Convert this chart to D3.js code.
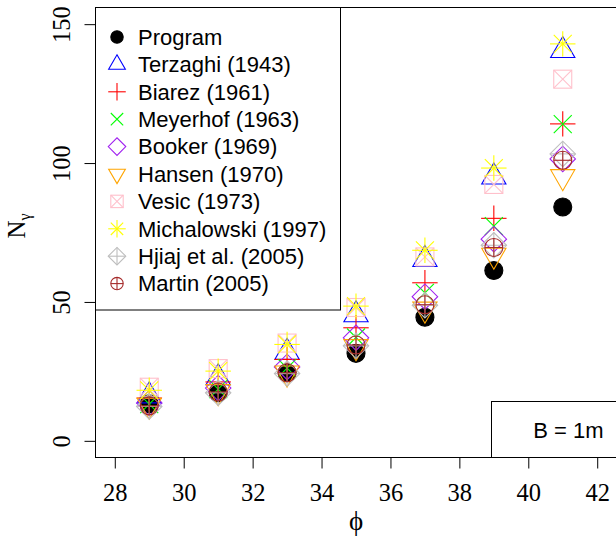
<!DOCTYPE html>
<html>
<head>
<meta charset="utf-8">
<script src="https://cdn.jsdelivr.net/npm/d3@7"></script>
<style>
  html, body { margin: 0; padding: 0; background: #fff; }
  svg { display: block; }
</style>
</head>
<body>
<svg id="chart" width="616" height="539"></svg>
<script>
// ---------- data ----------
const phi = [29, 31, 33, 35, 37, 39, 41];
const program     = [13.3, 17.3, 24.5, 31.5, 44.5, 61.3, 84.2];
const terzaghi    = [16.2, 22.7, 31.9, 45.4, 65.3, 95.0, 140.5];
const biarez      = [15.4, 21.2, 29.3, 40.7, 56.9, 80.1, 114.1];
const meyerhof    = [13.2, 18.6, 26.2, 37.2, 53.3, 77.3, 114.0];
const booker      = [13.6, 19.0, 26.6, 37.1, 51.9, 72.6, 101.5];
const hansen      = [12.8, 17.7, 24.4, 33.9, 47.4, 66.8, 95.1];
const vesic       = [19.3, 26.0, 35.2, 48.0, 66.2, 92.3, 130.2];
const michalowski = [18.2, 25.1, 34.7, 48.5, 68.6, 98.2, 142.9];
const hjiaj       = [12.4, 17.3, 24.2, 34.2, 48.8, 70.4, 103.3];
const martin      = [12.6, 17.6, 24.5, 34.5, 49.0, 69.6, 101.0];

const seriesNames = ["Program", "Terzaghi (1943)", "Biarez (1961)", "Meyerhof (1963)",
  "Booker (1969)", "Hansen (1970)", "Vesic (1973)", "Michalowski (1997)",
  "Hjiaj et al. (2005)", "Martin (2005)"];
const seriesValues = [program, terzaghi, biarez, meyerhof, booker, hansen, vesic,
  michalowski, hjiaj, martin];
const seriesPch = [19, 2, 3, 4, 5, 6, 7, 8, 9, 10];
const seriesColors = ["#000000", "#0000FF", "#FF0000", "#00FF00", "#A020F0",
  "#FFA500", "#FFC0CB", "#FFFF00", "#BEBEBE", "#A52A2A"];

const xTicks = [28, 30, 32, 34, 36, 38, 40, 42];
const yTicks = [0, 50, 100, 150];
const xLimits = [28, 42];
const yLimits = [0, 150];
const noteText = "B = 1m";

// ---------- layout ----------
const svg = d3.select("#chart");
const pL = 95.5, pR = 616.5, pT = 7.5, pB = 457.5;

const xPad = (xLimits[1] - xLimits[0]) * 0.04;
const yPad = (yLimits[1] - yLimits[0]) * 0.04;
const x = d3.scaleLinear().domain([xLimits[0] - xPad, xLimits[1] + xPad]).range([pL, pR]);
const y = d3.scaleLinear().domain([yLimits[0] - yPad, yLimits[1] + yPad]).range([pB, pT]);

const serif = "'Liberation Serif', 'Times New Roman', serif";
const sans = "'Liberation Sans', Arial, sans-serif";

// ---------- R-style symbols ----------
function drawSymbol(g, pch, cx, cy, R, color) {
  const lw = 1.1;
  const line = (x1, y1, x2, y2) => g.append("line")
    .attr("x1", cx + x1).attr("y1", cy + y1).attr("x2", cx + x2).attr("y2", cy + y2)
    .attr("stroke", color).attr("stroke-width", lw);
  const TRC0 = Math.sqrt(4 * Math.PI / (3 * Math.sqrt(3)));
  const TRC1 = TRC0 * Math.sqrt(3) / 2;
  const TRC2 = TRC0 / 2;
  const s2 = Math.SQRT2 * R;
  switch (pch) {
    case 19:
      g.append("circle").attr("cx", cx).attr("cy", cy).attr("r", R)
        .attr("fill", color).attr("stroke", color).attr("stroke-width", lw);
      break;
    case 2:
      g.append("path").attr("d",
        `M${cx},${cy - TRC0 * R}L${cx + TRC1 * R},${cy + TRC2 * R}L${cx - TRC1 * R},${cy + TRC2 * R}Z`)
        .attr("fill", "none").attr("stroke", color).attr("stroke-width", lw);
      break;
    case 6:
      g.append("path").attr("d",
        `M${cx},${cy + TRC0 * R}L${cx + TRC1 * R},${cy - TRC2 * R}L${cx - TRC1 * R},${cy - TRC2 * R}Z`)
        .attr("fill", "none").attr("stroke", color).attr("stroke-width", lw);
      break;
    case 3:
      line(-s2, 0, s2, 0); line(0, -s2, 0, s2);
      break;
    case 4:
      line(-R, -R, R, R); line(-R, R, R, -R);
      break;
    case 5:
      g.append("path").attr("d", `M${cx - s2},${cy}L${cx},${cy - s2}L${cx + s2},${cy}L${cx},${cy + s2}Z`)
        .attr("fill", "none").attr("stroke", color).attr("stroke-width", lw);
      break;
    case 7:
      g.append("rect").attr("x", cx - R).attr("y", cy - R).attr("width", 2 * R).attr("height", 2 * R)
        .attr("fill", "none").attr("stroke", color).attr("stroke-width", lw);
      line(-R, -R, R, R); line(-R, R, R, -R);
      break;
    case 8:
      line(-R, -R, R, R); line(-R, R, R, -R);
      line(-s2, 0, s2, 0); line(0, -s2, 0, s2);
      break;
    case 9:
      g.append("path").attr("d", `M${cx - s2},${cy}L${cx},${cy - s2}L${cx + s2},${cy}L${cx},${cy + s2}Z`)
        .attr("fill", "none").attr("stroke", color).attr("stroke-width", lw);
      line(-s2, 0, s2, 0); line(0, -s2, 0, s2);
      break;
    case 10:
      g.append("circle").attr("cx", cx).attr("cy", cy).attr("r", R)
        .attr("fill", "none").attr("stroke", color).attr("stroke-width", lw);
      line(-R, 0, R, 0); line(0, -R, 0, R);
      break;
  }
}

// ---------- points ----------
const pts = svg.append("g");
seriesValues.forEach((vals, si) => {
  vals.forEach((v, i) => {
    drawSymbol(pts, seriesPch[si], x(phi[i]), y(v), 9, seriesColors[si]);
  });
});

// ---------- axes ----------
const xAxis = svg.append("g").attr("transform", `translate(0,${pB})`)
  .call(d3.axisBottom(x).tickValues(xTicks).tickSize(11).tickSizeOuter(0).tickFormat(d3.format("d")));
xAxis.select(".domain").remove();
xAxis.selectAll(".tick line").attr("stroke", "#000");
xAxis.selectAll(".tick text").attr("font-family", serif).attr("font-size", "24.5px")
  .attr("fill", "#000").attr("y", 43).attr("dy", 0);

const yAxis = svg.append("g").attr("transform", `translate(${pL},0)`)
  .call(d3.axisLeft(y).tickValues(yTicks).tickSize(11).tickSizeOuter(0).tickFormat(d3.format("d")));
yAxis.select(".domain").remove();
yAxis.selectAll(".tick line").attr("stroke", "#000");
yAxis.selectAll(".tick text").attr("font-family", serif).attr("font-size", "24.5px")
  .attr("fill", "#000").attr("x", null).attr("dy", null)
  .attr("text-anchor", "middle")
  .attr("transform", "translate(-25.5,0) rotate(-90)");

// plot box
svg.append("rect").attr("x", pL).attr("y", pT).attr("width", pR - pL).attr("height", pB - pT)
  .attr("fill", "none").attr("stroke", "#000").attr("stroke-width", 1);

// axis titles
svg.append("text").attr("x", x(35)).attr("y", 530).attr("text-anchor", "middle")
  .attr("font-family", serif).attr("font-size", "27px").text("ϕ");

const yl = svg.append("text").attr("transform", "translate(25,226) rotate(-90)")
  .attr("text-anchor", "middle").attr("font-family", serif).attr("font-size", "25px");
yl.append("tspan").text("N");
yl.append("tspan").attr("font-size", "16px").attr("dy", 5).text("γ");

// ---------- legend ----------
const lg = svg.append("g");
lg.append("rect").attr("x", pL).attr("y", pT).attr("width", 245).attr("height", 302.5)
  .attr("fill", "#fff").attr("stroke", "#000").attr("stroke-width", 1);
seriesNames.forEach((name, i) => {
  const cy = 37 + i * 27.4;
  drawSymbol(lg, seriesPch[i], 117, cy, 6.2, seriesColors[i]);
  lg.append("text").attr("x", 138).attr("y", cy + 7.8).attr("font-family", sans)
    .attr("font-size", "22px").attr("fill", "#000").text(name);
});

// ---------- note box ----------
svg.append("rect").attr("x", 491.5).attr("y", 401.5).attr("width", pR - 491.5).attr("height", pB - 401.5)
  .attr("fill", "#fff").attr("stroke", "#000").attr("stroke-width", 1);
svg.append("text").attr("x", 603.5).attr("y", 437.5).attr("text-anchor", "end")
  .attr("font-family", sans).attr("font-size", "22px").attr("fill", "#000").text(noteText);
</script>
</body>
</html>
